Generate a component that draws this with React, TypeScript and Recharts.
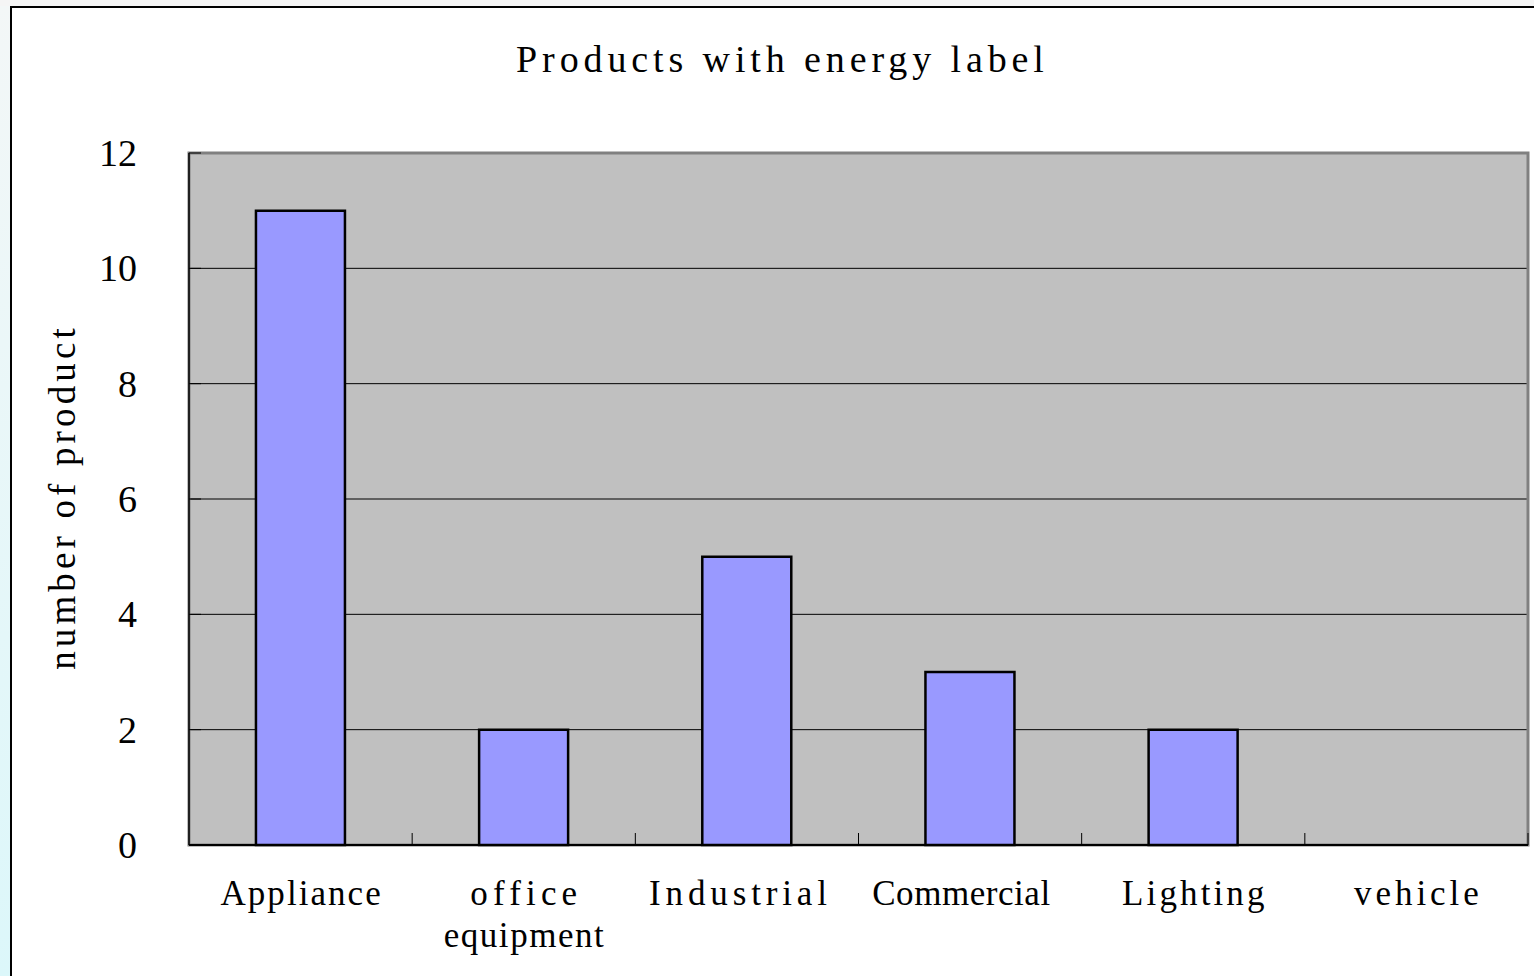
import React from "react";
import { BarChart, Bar, XAxis, YAxis, CartesianGrid, ReferenceArea } from "recharts";

const categories = ["Appliance", "office\nequipment", "Industrial ", "Commercial ", "Lighting", "vehicle"];
const productCounts = [11, 2, 5, 3, 2, 0];
const yTicks = [0, 2, 4, 6, 8, 10, 12];
const chartTitle = "Products with energy label";
const yAxisTitle = "number of product";

const data = categories.map((name, i) => ({ name, value: productCounts[i] }));

const FONT = "'Liberation Serif', 'DejaVu Serif', serif";

const XTick = (props: any) => {
  const { x, y, payload } = props;
  const lines = String(payload.value).split("\n");
  const half = payload.offset ?? 111.6;
  return (
    <g>
      <line x1={x + half} x2={x + half} y1={y - 12} y2={y} stroke="#000" strokeWidth={1} />
      {lines.map((ln: string, i: number) => {
        const trimmed = ln.replace(/\s+$/, "");
        const trailing = ln.length - trimmed.length;
        return (
          <text
            key={i}
            x={x - (trailing * 17.8) / 2}
            y={y + 60 + i * 42}
            textAnchor="middle"
            fontFamily={FONT}
            fontSize={35}
            fill="#000"
            textLength={trimmed.length * 17.8}
            lengthAdjust="spacing"
          >
            {trimmed}
          </text>
        );
      })}
    </g>
  );
};

const YTick = (props: any) => {
  const { x, y, payload } = props;
  return (
    <g>
      <line x1={x + 52} x2={x + 64} y1={y} y2={y} stroke="#000" strokeWidth={1} />
      <text x={x} y={y + 13} textAnchor="end" fontFamily={FONT} fontSize={38} fill="#000">
        {payload.value}
      </text>
    </g>
  );
};

export default function App() {
  return (
    <div
      style={{
        position: "fixed",
        left: 0,
        top: 0,
        width: 1534,
        height: 976,
        background: "#f5f5f5",
        overflow: "hidden",
      }}
    >
      <div
        style={{
          position: "absolute",
          left: 0,
          top: 6,
          width: 10,
          height: 970,
          background: "linear-gradient(#f3f7f7, #dcf7fa)",
        }}
      />
      <div
        style={{
          position: "absolute",
          left: 10,
          top: 6,
          width: 1530,
          height: 980,
          borderLeft: "2px solid #000",
          borderTop: "2px solid #000",
          background: "#fff",
        }}
      />
      <div style={{ position: "absolute", left: 0, top: 0 }}>
        <BarChart
          width={1534}
          height={976}
          data={data}
          margin={{ top: 153, right: 6, bottom: 51, left: 129 }}
          barCategoryGap="30%"
        >
          <CartesianGrid vertical={false} stroke="#000" strokeWidth={1} fill="#C0C0C0" fillOpacity={1} />
          <ReferenceArea y1={0} y2={12} fill="none" stroke="#808080" strokeWidth={3} ifOverflow="visible" />
          <XAxis
            dataKey="name"
            interval={0}
            height={80}
            tickSize={0}
            tickMargin={0}
            tickLine={false}
            tick={<XTick />}
            axisLine={{ stroke: "#000", strokeWidth: 2 }}
          />
          <YAxis
            width={60}
            domain={[0, 12]}
            ticks={yTicks}
            interval={0}
            tickSize={0}
            tickMargin={52}
            tickLine={false}
            tick={<YTick />}
            axisLine={{ stroke: "#000", strokeWidth: 1.5 }}
          />
          <Bar dataKey="value" fill="#9999FF" stroke="#000" strokeWidth={2.5} isAnimationActive={false} />
          <text
            x={780}
            y={72}
            textAnchor="middle"
            fontFamily={FONT}
            fontSize={38}
            fill="#000"
            textLength={chartTitle.length * 20.3}
            lengthAdjust="spacing"
          >
            {chartTitle}
          </text>
          <text
            transform="translate(75,499) rotate(-90)"
            textAnchor="middle"
            fontFamily={FONT}
            fontSize={37}
            fill="#000"
            textLength={yAxisTitle.length * 20.1}
            lengthAdjust="spacing"
          >
            {yAxisTitle}
          </text>
        </BarChart>
      </div>
    </div>
  );
}
